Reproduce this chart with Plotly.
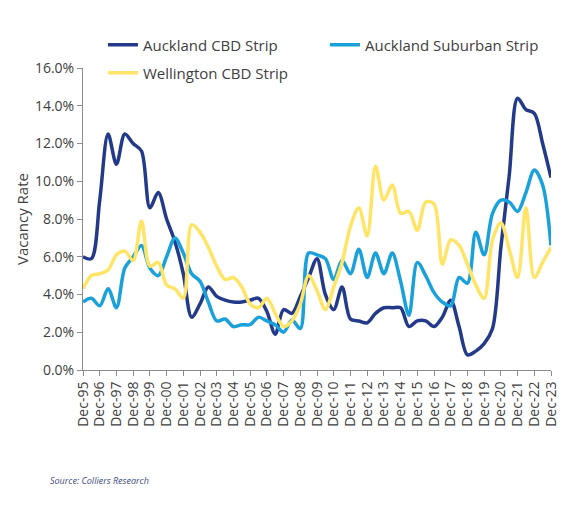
import plotly.graph_objects as go

# Semi-annual periods Dec-95 .. Dec-23
periods = ["1995-12-01"]
for yr in range(1996, 2024):
    periods += [f"{yr}-06-01", f"{yr}-12-01"]

auckland_cbd = [
    6.0,
    5.9, 9.0,   12.5, 10.9,  12.5, 12.0,  11.6, 8.6,   9.4, 8.0,
    6.8, 5.1,   2.8, 3.5,    4.4, 3.9,    3.7, 3.6,    3.6, 3.7,
    3.8, 3.1,   1.9, 3.2,    3.0, 3.9,    4.9, 5.9,    4.0, 3.2,
    4.4, 2.7,   2.6, 2.5,    3.0, 3.3,    3.3, 3.3,    2.3, 2.6,
    2.6, 2.3,   2.8, 3.7,    2.3, 0.8,    1.0, 1.4,    2.2, 6.5,
    10.3, 14.4, 13.8, 13.6,  12.0, 10.2,
]

auckland_suburban = [
    3.6,
    3.8, 3.4,   4.3, 3.3,    5.4, 6.0,    6.6, 5.4,    5.0, 6.0,
    7.0, 6.2,   5.1, 4.7,    3.6, 2.6,    2.7, 2.3,    2.4, 2.4,
    2.8, 2.6,   2.4, 2.0,    2.65, 2.2,   6.2, 6.1,    5.9, 4.8,
    5.8, 5.1,   6.4, 4.9,    6.2, 5.1,    6.2, 4.7,    2.9, 5.7,
    5.0, 4.1,   3.6, 3.4,    4.9, 4.6,    7.3, 6.1,    8.3, 9.0,
    8.9, 8.4,   9.4, 10.6,   9.8, 6.6,
]

wellington_cbd = [
    4.3,
    5.0, 5.1,   5.3, 6.1,    6.3, 5.8,    7.9, 5.5,    5.7, 4.5,
    4.3, 3.8,   7.7, 7.3,    6.5, 5.5,    4.8, 4.9,    4.4, 3.5,
    3.3, 3.8,   3.0, 2.3,    2.6, 3.5,    5.0, 4.2,    3.2, 4.4,
    5.7, 7.6,   8.6, 7.1,    10.8, 9.0,   9.8, 8.3,    8.4, 7.4,
    8.9, 8.8,   5.6, 6.9,    6.6, 5.6,    4.5, 3.8,    6.9, 7.8,
    6.4, 4.9,   8.6, 4.9,    5.7, 6.5,
]

tick_dates = [f"{yr}-12-01" for yr in range(1995, 2024)]
tick_labels = [f"Dec-{yr % 100:02d}" for yr in range(1995, 2024)]
y_ticks = [0, 2, 4, 6, 8, 10, 12, 14, 16]

FONT = "Open Sans, Noto Sans, sans-serif"
TXT = "#404040"
AX = "#8c8c8c"

def line(color):
    return dict(color=color, width=3.5, shape="spline", smoothing=0.9)

fig = go.Figure()
fig.add_trace(go.Scatter(x=periods, y=auckland_cbd, name="Auckland CBD Strip",
                         mode="lines", line=line("#233a8b"), legend="legend"))
fig.add_trace(go.Scatter(x=periods, y=auckland_suburban, name="Auckland Suburban Strip",
                         mode="lines", line=line("#1aa0da"), legend="legend3"))
fig.add_trace(go.Scatter(x=periods, y=wellington_cbd, name="Wellington CBD Strip",
                         mode="lines", line=line("#ffe466"), legend="legend2"))

leg = dict(orientation="h", xanchor="left", yanchor="middle",
           font=dict(size=15, color=TXT), bgcolor="rgba(0,0,0,0)")

fig.update_layout(
    width=576, height=502,
    showlegend=True,
    margin=dict(l=75, r=33, t=60, b=140, autoexpand=False),
    paper_bgcolor="white", plot_bgcolor="white",
    font=dict(family=FONT, size=14, color=TXT),
    legend=dict(leg, x=0.0427, y=1.0762),
    legend3=dict(leg, x=0.517, y=1.0762),
    legend2=dict(leg, x=0.0427, y=0.9834),
    xaxis=dict(type="date", range=[tick_dates[0], tick_dates[-1]],
               tickmode="array", tickvals=tick_dates, ticktext=tick_labels,
               tickangle=-90, tickfont=dict(size=14, color=TXT),
               showline=True, linecolor=AX, linewidth=1, ticks="outside",
               tickcolor=AX, ticklen=5, showgrid=False, zeroline=False,
               automargin=False),
    yaxis=dict(range=[0, 16], tickmode="array", tickvals=y_ticks,
               ticktext=[f"{v:.1f}%" for v in y_ticks],
               tickfont=dict(size=14, color=TXT),
               showline=True, linecolor=AX, linewidth=1, ticks="outside",
               tickcolor=AX, ticklen=5, showgrid=False, zeroline=False,
               automargin=False,
               title=dict(text="Vacancy Rate", font=dict(size=15, color=TXT), standoff=2)),
    annotations=[dict(text="<i>Source: Colliers Research</i>", xref="paper", yref="paper",
                      x=-0.0748, y=-0.3675, xanchor="left", yanchor="middle", showarrow=False,
                      font=dict(family=FONT, size=9, color="#3b4a80"))],
    shapes=[dict(type="line", xref="paper", yref="paper", x0=1.0684, x1=1.0684,
                 y0=-0.4636, y1=1.1755, line=dict(color="#e0e0e0", width=1))],
)

fig.write_html("out.html")
